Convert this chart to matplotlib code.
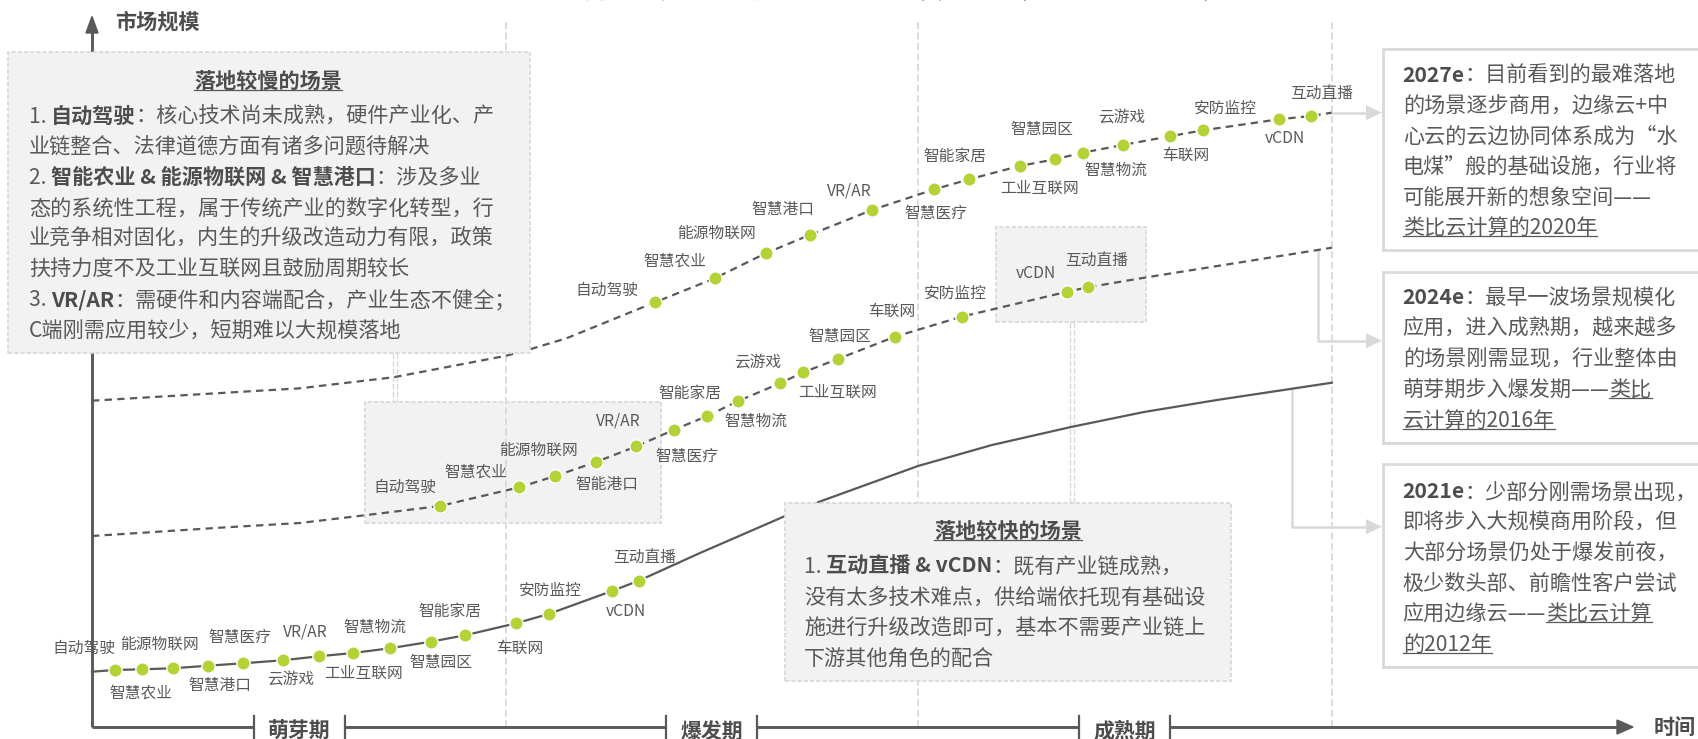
import matplotlib.pyplot as plt
from matplotlib.patches import Rectangle, Polygon
from matplotlib.font_manager import FontProperties

plt.rcParams['font.family'] = ['Noto Sans CJK SC', 'DejaVu Sans']
plt.rcParams['lines.scale_dashes'] = False

# picture size and the corner of the two axes (pixels of the picture)
W, H = 1698, 739
X0, Y0 = 92, 727

# ---- data: position of every scenario on the three curves
# time = distance along the time axis, size = height above it (same units)
names_2021 = ['自动驾驶', '智慧农业', '能源物联网', '智慧港口', '智慧医疗', '云游戏', 'VR/AR',
              '工业互联网', '智慧物流', '智慧园区', '智能家居', '车联网', '安防监控', 'vCDN', '互动直播']
time_2021 = [22.7, 49.5, 80.8, 116, 151, 190.6, 226.7, 261, 297.7, 338.8, 373, 424, 456.6, 520, 547.3]
size_2021 = [57, 57.7, 58.7, 61.3, 63.7, 66.7, 70.7, 74, 78.7, 85.3, 91.7, 103.7, 113, 136, 146.5]

names_2024 = ['自动驾驶', '智慧农业', '能源物联网', '智能港口', 'VR/AR', '智慧医疗', '智能家居',
              '智慧物流', '云游戏', '工业互联网', '智慧园区', '车联网', '安防监控', 'vCDN', '互动直播']
time_2024 = [348, 427.3, 463.3, 503.5, 544.2, 582.2, 615.3, 645.8, 687.7, 711.3, 745.8, 803, 869.6, 975.3, 995.7]
size_2024 = [221, 239.7, 251, 264.8, 280.6, 297.3, 311, 325.8, 343.6, 354.7, 368, 390.3, 410.3, 435.3, 439.7]

names_2027 = ['自动驾驶', '智慧农业', '能源物联网', '智慧港口', 'VR/AR', '智慧医疗', '智能家居',
              '工业互联网', '智慧园区', '智慧物流', '云游戏', '车联网', '安防监控', 'vCDN', '互动直播']
time_2027 = [563, 622.7, 673.6, 718.3, 779.9, 842.4, 877.2, 927.6, 962.9, 990.6, 1030.7, 1077.6, 1111, 1186.9, 1219]
size_2027 = [424.7, 448.7, 473.7, 492.3, 517, 537.7, 547.7, 561, 567.7, 574.3, 582, 590.7, 596.7, 607.7, 611]

# extra points
shape_2021_t = [0, 608, 692, 728, 826, 900, 979, 1052, 1125, 1240]
shape_2021_m = [55.3, 174, 210.5, 225.5, 261, 282, 300, 315, 327, 344.3]
shape_2024_t = [0, 131, 208, 271, 1054.7, 1240]
shape_2024_m = [191, 199.5, 204, 211.5, 449.7, 479.3]
shape_2027_t = [0, 208, 301.3, 413, 441.3, 474.4, 1239.7]
shape_2027_m = [326.3, 338.7, 349.7, 371, 378.7, 388.7, 614.3]

# label offsets from their dot (pixels, right / down)
offs_2021 = [(-31, -22), (-1, 24), (-13, -24), (12, 20), (-3, -26), (8, 20), (-13, -24), (11, 20),
             (-15, -21), (10, 21), (-15, -24), (4, 25), (2, -24), (14, 21), (5, -23)]
offs_2024 = [(-35, -19), (-43, -15), (-17, -26), (11, 22), (-18, -25), (13, 27), (-17, -23), (18, 20),
             (-22, -20), (34, 20), (2, -23), (-3, -25), (-6, -23), (-31, -18), (9, -27)]
offs_2027 = [(-48, -12), (-40, -17), (-49, -20), (-27, -25), (-23, -19), (1, 24), (-14, -23), (20, 22),
             (-13, -30), (33, 18), (-1, -27), (16, 19), (22, -22), (6, 19), (11, -23)]

phases = ['萌芽期', '爆发期', '成熟期']
phase_bars = [(254.5, 344.5), (666, 757), (1079, 1170)]
stage_lines = [506, 918, 1332]

TXT = '#595959'
BOLD = '#4d4d4d'
LINE = '#595959'
GREEN = '#b3d236'
LIGHT = '#d9d9d9'

fig = plt.figure(figsize=(W / 100, H / 100), dpi=100)
ax = fig.add_axes([0, 0, 1, 1])
ax.set_xlim(-X0, W - X0)
ax.set_ylim(-(H - Y0), Y0)
ax.axis('off')
rend = fig.canvas.get_renderer()


def P(x, y):
    # picture pixel -> data coordinates
    return x - X0, Y0 - y


def advance(s, fp):
    w1 = rend.get_text_width_height_descent('|' + s + '|', fp, ismath=False)[0]
    w0 = rend.get_text_width_height_descent('||', fp, ismath=False)[0]
    return w1 - w0


def text_line(x, y, runs, size=15.2, center=False):
    fps = [FontProperties(family=['Noto Sans CJK SC', 'DejaVu Sans'], size=size,
                          weight='bold' if 'b' in st else 'normal') for s, st in runs]
    widths = [advance(s, fp) for (s, st), fp in zip(runs, fps)]
    if center:
        x = x - sum(widths) / 2
    base = y + 0.385 * size * 100 / 72
    for (s, st), fp, w in zip(runs, fps, widths):
        ax.text(*P(x, base), s, fontproperties=fp, color=BOLD if 'b' in st else TXT,
                ha='left', va='baseline', zorder=6)
        if 'u' in st:
            ax.plot([x - X0, x + w - X0], [Y0 - y - 9.5] * 2, color=TXT, lw=0.9, zorder=6)
        x += w


def text_block(x, y0, step, lines):
    for i, runs in enumerate(lines):
        text_line(x, y0 + i * step, runs)


# ---- stage separators
for sx in stage_lines:
    ax.plot([sx - X0] * 2, [0, Y0 - 19], color=LIGHT, lw=1.3, ls=(0, (5, 2.5)), zorder=1)

# ---- boxes
def gray_box(x0, y0, x1, y1, z):
    ax.add_patch(Rectangle(P(x0, y1), x1 - x0, y1 - y0, facecolor='#f2f2f2', edgecolor=LIGHT,
                           lw=1.3, ls=(0, (3, 1.5)), zorder=z))


gray_box(8, 52, 530, 353, 4)
gray_box(365, 402, 661, 523, 0.5)
gray_box(996, 227, 1146, 322, 0.5)
gray_box(785, 503, 1231, 681, 4)

for y0, y1 in [(48.5, 250), (272, 442.5), (464, 667)]:
    ax.add_patch(Rectangle(P(1383, y1), 1698 - 1383 + 5, y1 - y0, facecolor='white',
                           edgecolor=LIGHT, lw=2, zorder=4))

# double connectors between boxes
for cx, ya, yb in [(395, 353, 402), (1072, 322, 503)]:
    for d in (-1.8, 1.8):
        ax.plot([cx + d - X0] * 2, [Y0 - ya, Y0 - yb], color=LIGHT, lw=1.0, ls=(0, (4, 1.5)), zorder=1)

# arrows from curve ends to the year boxes
for pts, ya in [([(1332, 112.7), (1368, 112.7)], 112.7),
                ([(1318.3, 250), (1318.3, 340.7), (1368, 340.7)], 340.7),
                ([(1291.7, 388.5), (1291.7, 526.7), (1368, 526.7)], 526.7)]:
    xs = [p[0] - X0 for p in pts]
    ys = [Y0 - p[1] for p in pts]
    ax.plot(xs, ys, color=LIGHT, lw=1.8, zorder=1.5)
    ax.add_patch(Polygon([P(1366, ya - 7.5), P(1382, ya), P(1366, ya + 7.5)], closed=True,
                         facecolor=LIGHT, edgecolor='none', zorder=1.5))

# ---- curves
def curve(times, sizes, st, sm, dashed):
    pts = sorted(zip(list(times) + st, list(sizes) + sm))
    ls = (0, (5.3, 3.8)) if dashed else '-'
    ax.plot([p[0] for p in pts], [p[1] for p in pts], color=LINE, lw=1.6, ls=ls, zorder=2,
            solid_joinstyle='round')


curve(time_2021, size_2021, shape_2021_t, shape_2021_m, False)
curve(time_2024, size_2024, shape_2024_t, shape_2024_m, True)
curve(time_2027, size_2027, shape_2027_t, shape_2027_m, True)

for names, ts, ms, offs in [(names_2021, time_2021, size_2021, offs_2021),
                            (names_2024, time_2024, size_2024, offs_2024),
                            (names_2027, time_2027, size_2027, offs_2027)]:
    ax.plot(ts, ms, 'o', ms=9.6, color=GREEN, mec='white', mew=1.0, zorder=3)
    for n, t, m, (dx, dy) in zip(names, ts, ms, offs):
        ax.annotate(n, (t, m), xytext=(dx, -dy), textcoords='offset pixels', ha='center',
                    va='center', fontsize=11.3, color=TXT, zorder=5)

# ---- axes
ax.plot([0, 0], [0, Y0 - 32], color=LINE, lw=2.1, zorder=3, solid_capstyle='butt')
ax.add_patch(Polygon([P(86, 33), P(92, 16.5), P(98, 33)], closed=True, color=LINE, zorder=3))
segs = [(92, phase_bars[0][0])] + [(phase_bars[i][1], phase_bars[i + 1][0]) for i in range(2)] \
    + [(phase_bars[2][1], 1619)]
for a, b in segs:
    ax.plot([a - X0, b - X0], [0, 0], color=LINE, lw=2.1, zorder=3, solid_capstyle='butt')
for (a, b), name in zip(phase_bars, phases):
    for bx in (a, b):
        ax.plot([bx - X0] * 2, [Y0 - 716, Y0 - 745], color=LINE, lw=1.6, zorder=3)
    ax.text(*P((a + b) / 2, 731), name, ha='center', va='center', fontsize=15, fontweight='bold',
            color=BOLD, zorder=3)
ax.add_patch(Polygon([P(1617, 720), P(1633, 727), P(1617, 734)], closed=True, color=LINE, zorder=3))
ax.text(*P(1675, 727), '时间', ha='center', va='center', fontsize=15.2, fontweight='bold', color=BOLD)
ax.text(*P(115, 22), '市场规模', ha='left', va='center', fontsize=15.2, fontweight='bold', color=BOLD)

# title, cut off by the top edge as in the source picture
ax.text(*P(880, -2.5), '中国边缘云计算细分场景落地节奏预测（2021e-2027e）', ha='center', va='baseline',
        fontsize=20, fontweight='bold', color='#404040')

# ---- box texts
text_line(268, 80, [('落地较慢的场景', 'bu')], center=True)
text_block(28.7, 115, 30.5, [
    [('1. ', ''), ('自动驾驶', 'b'), ('：核心技术尚未成熟，硬件产业化、产', '')],
    [('业链整合、法律道德方面有诸多问题待解决', '')],
    [('2. ', ''), ('智能农业 & 能源物联网 & 智慧港口', 'b'), ('：涉及多业', '')],
    [('态的系统性工程，属于传统产业的数字化转型，行', '')],
    [('业竞争相对固化，内生的升级改造动力有限，政策', '')],
    [('扶持力度不及工业互联网且鼓励周期较长', '')],
    [('3. ', ''), ('VR/AR', 'b'), ('：需硬件和内容端配合，产业生态不健全；', '')],
    [('C端刚需应用较少，短期难以大规模落地', '')],
])

text_line(1008, 530, [('落地较快的场景', 'bu')], center=True)
text_block(804, 565, 31, [
    [('1. ', ''), ('互动直播 & vCDN', 'b'), ('：既有产业链成熟，', '')],
    [('没有太多技术难点，供给端依托现有基础设', '')],
    [('施进行升级改造即可，基本不需要产业链上', '')],
    [('下游其他角色的配合', '')],
])

text_block(1402.7, 73.5, 30.6, [
    [('2027e', 'b'), ('：目前看到的最难落地', '')],
    [('的场景逐步商用，边缘云+中', '')],
    [('心云的云边协同体系成为“水', '')],
    [('电煤”般的基础设施，行业将', '')],
    [('可能展开新的想象空间——', '')],
    [('类比云计算的2020年', 'u')],
])
text_block(1402.7, 296, 30.8, [
    [('2024e', 'b'), ('：最早一波场景规模化', '')],
    [('应用，进入成熟期，越来越多', '')],
    [('的场景刚需显现，行业整体由', '')],
    [('萌芽期步入爆发期——', ''), ('类比', 'u')],
    [('云计算的2016年', 'u')],
])
text_block(1402.7, 490, 30.7, [
    [('2021e', 'b'), ('：少部分刚需场景出现，', '')],
    [('即将步入大规模商用阶段，但', '')],
    [('大部分场景仍处于爆发前夜，', '')],
    [('极少数头部、前瞻性客户尝试', '')],
    [('应用边缘云——', ''), ('类比云计算', 'u')],
    [('的2012年', 'u')],
])

fig.savefig('out.png', dpi=100)
